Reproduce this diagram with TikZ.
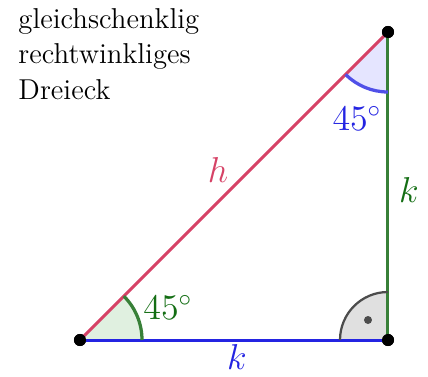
\documentclass[tikz,border=0pt]{standalone}
\usepackage{tikz}
\definecolor{hypcol}{RGB}{214,66,102}
\definecolor{kblue}{RGB}{36,36,226}
\definecolor{kgreen}{RGB}{56,128,56}
\definecolor{lblgreen}{RGB}{20,110,20}
\begin{document}
\begin{tikzpicture}[x=0.4pt,y=0.4pt,
    vtx/.style={circle,fill=black,inner sep=1.7pt},
    side/.style={line width=1.2pt},
    angarc/.style={line width=1.3pt},
    every node/.style={font=\Large}]
  \useasboundingbox (0,0) rectangle (428,376);
  % vertices
  \node[vtx] (A) at (80,36) {};
  \node[vtx] (B) at (388,36) {};
  \node[vtx] (C) at (388,344) {};
  % angle fills
  \fill[green!50!black!12] (A.center) -- ++(0:62) arc (0:45:62) -- cycle;
  \fill[blue!10] (C.center) -- ++(225:60) arc (225:270:60) -- cycle;
  \fill[black!12] (B.center) -- ++(90:48) arc (90:180:48) -- cycle;
  % sides
  \draw[side,hypcol] (A.center) -- (C.center);
  \draw[side,kblue] (A.center) -- (B.center);
  \draw[side,kgreen] (B.center) -- (C.center);
  % angle arcs
  \draw[angarc,kgreen] (A.center) ++(0:62) arc (0:45:62);
  \draw[angarc,kblue!80] (C.center) ++(225:60) arc (225:270:60);
  \draw[line width=0.9pt,black!70] (B.center) ++(90:48) arc (90:180:48);
  \fill[black!70] (368,56) circle (4);
  \node[vtx] at (A) {};
  \node[vtx] at (B) {};
  \node[vtx] at (C) {};
  % labels
  \node[hypcol] (h) at (218,206) {$h$};
  \node[kblue,inner sep=0.5pt] (kb) at (237,19) {$k$};
  \node[lblgreen] (kr) at (409,186) {$k$};
  \node[lblgreen] (a1) at (168,69) {$45^\circ$};
  \node[kblue] (a2) at (357,258) {$45^\circ$};
  \node[align=left,anchor=north west,inner sep=0pt,font=\fontsize{11.5}{14.2}\selectfont] (title) at (18,368)
    {gleichschenklig\\rechtwinkliges\\Dreieck};
\end{tikzpicture}
\end{document}
